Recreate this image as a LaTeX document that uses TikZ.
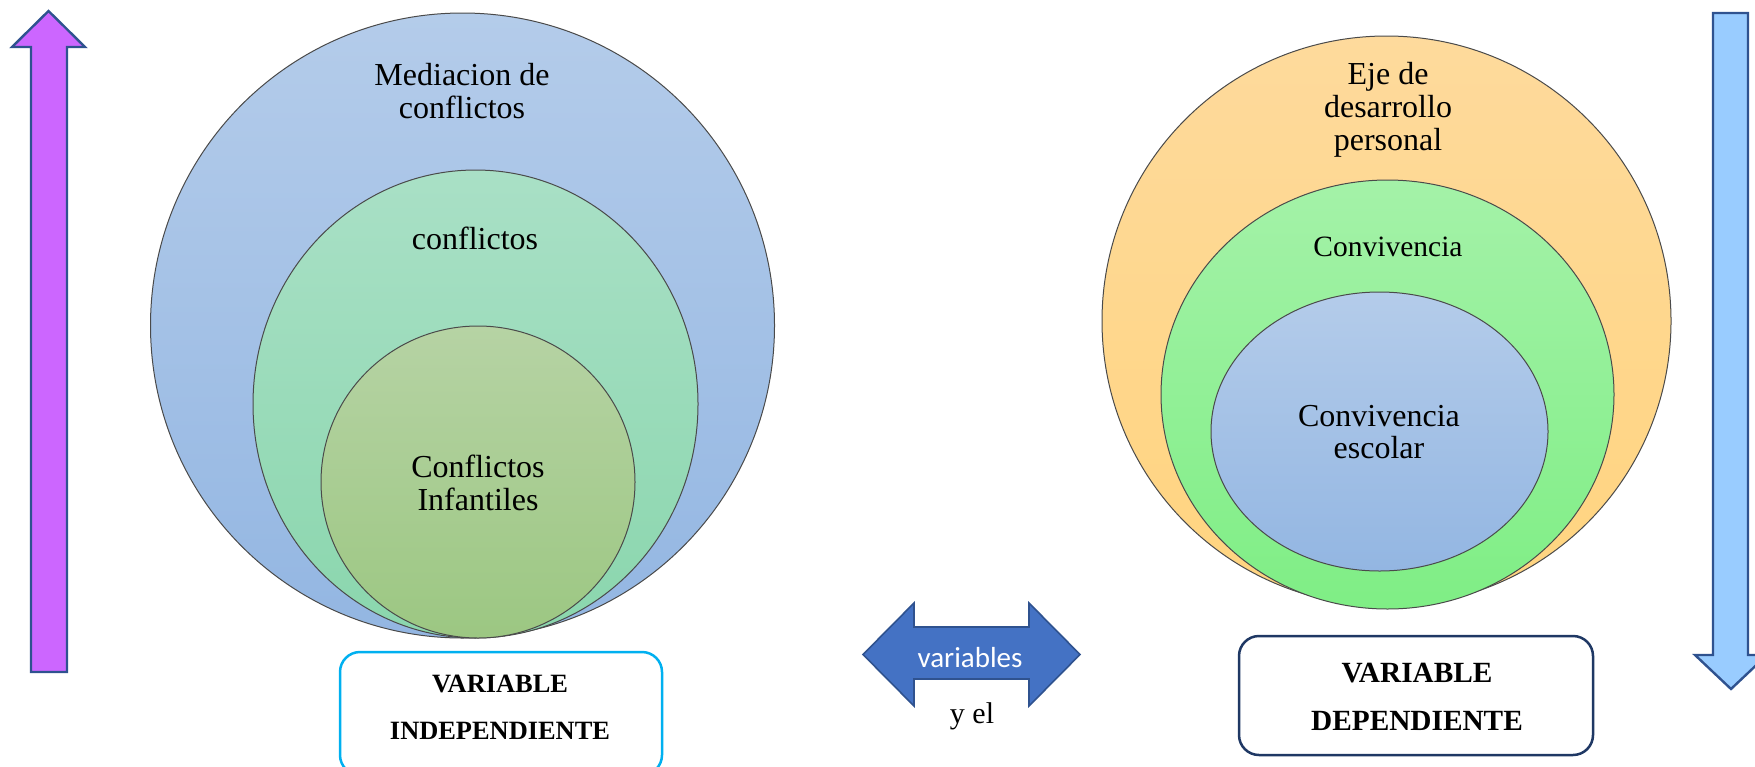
\documentclass[tikz,border=0pt]{standalone}
\usepackage{fontspec}
\setmainfont{Liberation Serif}
\newfontfamily\calfont{Carlito}
\usetikzlibrary{shapes.geometric}
\definecolor{ringline}{HTML}{4A4A4A}
\definecolor{arrowline}{HTML}{2F528F}
\definecolor{blueTop}{HTML}{B4CCEA}
\definecolor{blueBot}{HTML}{93B6E2}
\definecolor{mintTop}{HTML}{A9E0C6}
\definecolor{mintBot}{HTML}{8AD6AD}
\definecolor{oliveTop}{HTML}{B6D3A4}
\definecolor{oliveBot}{HTML}{9CC782}
\definecolor{orangeTop}{HTML}{FEDA9C}
\definecolor{orangeBot}{HTML}{FFD47F}
\definecolor{greenTop}{HTML}{A4F2A8}
\definecolor{greenBot}{HTML}{7FEE85}
\definecolor{purpleFill}{HTML}{CC66FF}
\definecolor{skyFill}{HTML}{99CCFF}
\definecolor{dblFill}{HTML}{4472C4}
\definecolor{cyanLine}{HTML}{00B0F0}
\definecolor{navyLine}{HTML}{1F3864}
\begin{document}
\begin{tikzpicture}[x=0.5pt,y=-0.5pt,
  ring/.style={ellipse, draw=ringline, line width=0.5pt, inner sep=0pt, outer sep=0pt},
  lbl/.style={anchor=base, inner sep=0pt, font=\fontsize{16}{18}\selectfont},
  lblsmall/.style={anchor=base, inner sep=0pt, font=\fontsize{14.75}{17}\selectfont},
  boxtxtL/.style={anchor=base, inner sep=0pt, font=\bfseries\fontsize{13.2}{16}\selectfont},
  boxtxtR/.style={anchor=base, inner sep=0pt, font=\bfseries\fontsize{14.65}{17}\selectfont},
  blockarrow/.style={draw=arrowline, line width=1.2pt, line join=miter},
  varbox/.style={rectangle, rounded corners=10pt, fill=white, line width=1.25pt, inner sep=0pt}]
\useasboundingbox (0,0) rectangle (1755,766);
\clip (0,0) rectangle (1755,766);

% left vertical arrow (up)
\draw[blockarrow, fill=purpleFill] (48.5,11) -- (85,47) -- (67,47) -- (67,672) -- (31,672) -- (31,47) -- (12,47) -- cycle;
% right vertical arrow (down)
\draw[blockarrow, fill=skyFill] (1713,13) -- (1748,13) -- (1748,655) -- (1767,655) -- (1731,689) -- (1695,655) -- (1713,655) -- cycle;

% left nested circles
\node[ring, top color=blueTop, bottom color=blueBot, minimum width=312pt, minimum height=312.5pt] (med) at (462.5,325.5) {};
\node[ring, top color=mintTop, bottom color=mintBot, minimum width=222.5pt, minimum height=234pt] (conf) at (475.5,404) {};
\node[ring, top color=oliveTop, bottom color=oliveBot, minimum width=157pt, minimum height=156pt] (inf) at (478,482) {};

\node[lbl] (medA) at (462,85) {Mediacion de};
\node[lbl] (medB) at (462,118) {conflictos};
\node[lbl] (confA) at (475,249) {conflictos};
\node[lbl] (infA) at (478,477) {Conflictos};
\node[lbl] (infB) at (478,510) {Infantiles};

% right nested circles
\node[ring, top color=orangeTop, bottom color=orangeBot, minimum width=284.5pt, minimum height=285pt] (eje) at (1386.5,321) {};
\node[ring, top color=greenTop, bottom color=greenBot, minimum width=226.5pt, minimum height=214.5pt] (conv) at (1387.5,394.5) {};
\node[ring, top color=blueTop, bottom color=blueBot, minimum width=168.5pt, minimum height=139.5pt] (esc) at (1379.5,431.5) {};

\node[lbl] (ejeA) at (1388,84.5) {Eje de};
\node[lbl] (ejeB) at (1388,117) {desarrollo};
\node[lbl] (ejeC) at (1388,150) {personal};
\node[lblsmall] (convA) at (1388,256.5) {Convivencia};
\node[lbl] (escA) at (1379,426) {Convivencia};
\node[lbl] (escB) at (1379,458.5) {escolar};

% variable boxes
\node[varbox, draw=cyanLine, minimum width=161pt, minimum height=61.5pt] (indep) at (501,713.5) {};
\node[boxtxtL] (indepA) at (500,692) {VARIABLE};
\node[boxtxtL] (indepB) at (500,739) {INDEPENDIENTE};

\node[varbox, draw=navyLine, minimum width=177pt, minimum height=59.5pt] (dep) at (1416,695.5) {};
\node[boxtxtR] (depA) at (1417,682) {VARIABLE};
\node[boxtxtR] (depB) at (1417,730) {DEPENDIENTE};

% double arrow
\draw[draw=arrowline, line width=0.8pt, fill=dblFill, line join=miter] (863,654.5) -- (914,603) -- (914,627) -- (1029,627) -- (1029,603) -- (1080,654.5) -- (1029,706) -- (1029,679) -- (914,679) -- (914,706) -- cycle;
\node[anchor=base, inner sep=0pt, text=white, font=\calfont\fontsize{14.5}{17}\selectfont] (vars) at (970,667) {variables};
\node[anchor=base, inner sep=0pt, font=\fontsize{15}{17}\selectfont] (yel) at (972,723) {y el};
\end{tikzpicture}
\end{document}
